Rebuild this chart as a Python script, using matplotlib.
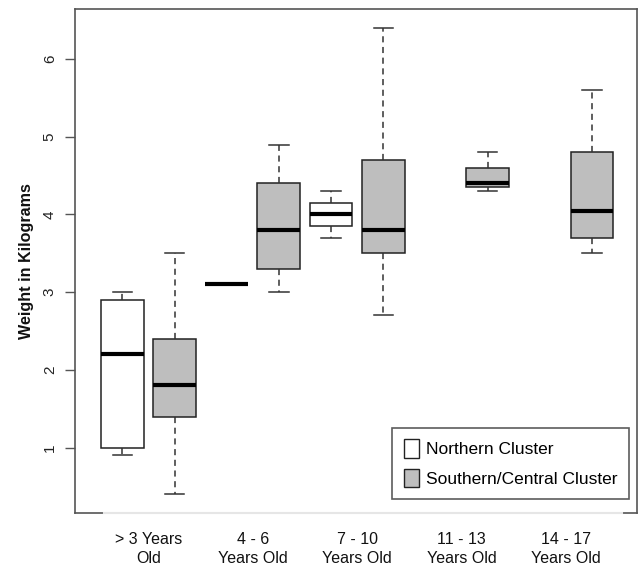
import matplotlib.pyplot as plt
from matplotlib.patches import Patch

plt.rcParams['font.family'] = ['Liberation Sans', 'DejaVu Sans']

# age groups (x labels)
groups = ["> 3 Years\nOld", "4 - 6\nYears Old", "7 - 10\nYears Old",
          "11 - 13\nYears Old", "14 - 17\nYears Old"]

# Northern cluster (None = no data)
north_low = [0.9, 3.1, 3.7, None, None]
north_q1 = [1.0, 3.1, 3.85, None, None]
north_med = [2.2, 3.1, 4.0, None, None]
north_q3 = [2.9, 3.1, 4.15, None, None]
north_high = [3.0, 3.1, 4.3, None, None]

# Southern/Central cluster
south_low = [0.4, 3.0, 2.7, 4.3, 3.5]
south_q1 = [1.4, 3.3, 3.5, 4.35, 3.7]
south_med = [1.8, 3.8, 3.8, 4.4, 4.05]
south_q3 = [2.4, 4.4, 4.7, 4.6, 4.8]
south_high = [3.5, 4.9, 6.4, 4.8, 5.6]


def make_stats(low, q1, med, q3, high):
    out = []
    for i in range(len(med)):
        if med[i] is None:
            out.append(None)
        else:
            out.append(dict(whislo=low[i], q1=q1[i], med=med[i], q3=q3[i],
                            whishi=high[i], fliers=[]))
    return out


north = make_stats(north_low, north_q1, north_med, north_q3, north_high)
south = make_stats(south_low, south_q1, south_med, south_q3, south_high)

fig = plt.figure(figsize=(6.4, 5.67), dpi=100)
ax = fig.add_axes([0.117, 0.0955, 0.878, 0.888])

frame_col = "#555555"


def draw(stats, positions, fill):
    s = [st for st in stats if st is not None]
    p = [positions[i] for i, st in enumerate(stats) if st is not None]
    ax.bxp(s, positions=p, widths=0.82, patch_artist=True, showfliers=False,
           capwidths=0.37,
           boxprops=dict(facecolor=fill, edgecolor="#222222", linewidth=1.1),
           medianprops=dict(color="black", linewidth=3, solid_capstyle="butt"),
           whiskerprops=dict(color="#333333", linewidth=1.1,
                             linestyle=(0, (4, 3))),
           capprops=dict(color="#333333", linewidth=1.1))


north_pos = [1 + 2 * i for i in range(len(groups))]
south_pos = [2 + 2 * i for i in range(len(groups))]
draw(north, north_pos, "white")
draw(south, south_pos, "#bebebe")

ax.set_xlim(0.09, 10.86)
ax.set_ylim(0.16, 6.64)

ax.set_xticks([1.5 + 2 * i for i in range(len(groups))])
ax.set_xticklabels(groups, fontsize=11.5, linespacing=1.3, color="#111111")
ax.tick_params(axis="x", length=0, pad=14)

ax.set_yticks([1, 2, 3, 4, 5, 6])
ax.set_yticklabels(["1", "2", "3", "4", "5", "6"], rotation=90,
                   va="center", fontsize=11, color="#222222")
ax.tick_params(axis="y", length=7, width=1, color=frame_col, pad=6)

ax.set_ylabel("Weight in Kilograms", fontsize=11.6, fontweight="bold",
              labelpad=6, color="#111111")

for sp in ax.spines.values():
    sp.set_color(frame_col)
    sp.set_linewidth(1.2)

# light x axis line over the bottom of the frame
ax.plot([0.65, 10.57], [0.16, 0.16], color="#e6e6e6", linewidth=1.5,
        clip_on=False, zorder=5)

handles = [Patch(facecolor="white", edgecolor="#222222", label="Northern Cluster"),
           Patch(facecolor="#bebebe", edgecolor="#222222",
                 label="Southern/Central Cluster")]
leg = ax.legend(handles=handles, loc="lower right", fontsize=12.5,
                frameon=True, fancybox=False, borderpad=0.65,
                handlelength=0.9, handleheight=1.3, handletextpad=0.4,
                labelspacing=0.6, borderaxespad=0,
                bbox_to_anchor=(0.986, 0.028))
leg.get_frame().set_edgecolor("#333333")
leg.get_frame().set_linewidth(1.2)

fig.savefig("out.png", dpi=100)
